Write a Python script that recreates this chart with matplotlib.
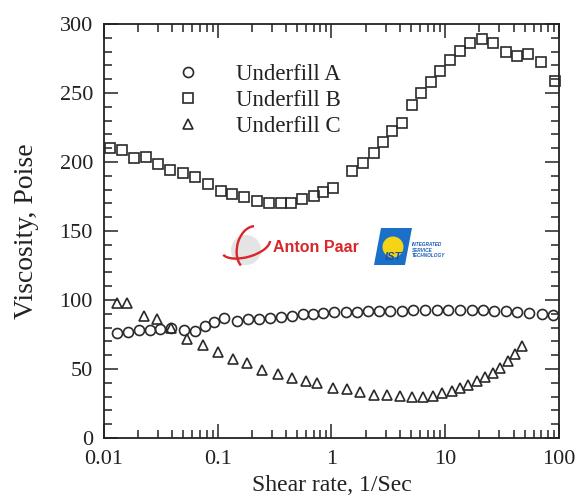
import numpy as np
import matplotlib
matplotlib.use("Agg")
import matplotlib.pyplot as plt
from matplotlib.patches import Polygon, Arc, Ellipse
from matplotlib.ticker import FixedLocator, NullFormatter, MultipleLocator

# ---------------- data ----------------
series_names = ["Underfill A", "Underfill B", "Underfill C"]

a_x = [0.0131, 0.0164, 0.0204, 0.0254, 0.031, 0.0388, 0.0505, 0.063, 0.0773, 0.0927,
       0.1135, 0.1486, 0.186, 0.231, 0.288, 0.36, 0.447, 0.558, 0.692, 0.847,
       1.06, 1.33, 1.67, 2.08, 2.62, 3.27, 4.14, 5.24, 6.64, 8.41,
       10.6, 13.5, 17.1, 21.3, 27, 34, 42.5, 54.8, 70.5, 89.1]
a_y = [76, 77, 78, 78, 79, 80, 78, 77.5, 81, 84,
       87, 85, 86, 86, 87, 88, 88.5, 89.5, 90, 90.5,
       91, 91.5, 91.5, 92, 92, 92, 92.2, 92.5, 92.5, 92.8,
       92.8, 92.8, 92.8, 92.5, 92, 91.8, 91.3, 90.8, 90, 89]

b_x = [0.0113, 0.0143, 0.0184, 0.0233, 0.0297, 0.038, 0.0498, 0.063, 0.0816, 0.106,
       0.133, 0.170, 0.223, 0.284, 0.357, 0.44, 0.553, 0.701, 0.847, 1.04,
       1.51, 1.91, 2.37, 2.85, 3.42, 4.17, 5.07, 6.09, 7.45, 9.0,
       11.0, 13.5, 16.5, 20.9, 26.4, 34.2, 43, 53.7, 69, 92.3]
b_y = [210, 208.5, 203, 203.5, 198.5, 194.5, 192, 189, 184, 179,
       177, 174.5, 171.5, 170, 170.5, 170.5, 173, 175, 178, 181.5,
       193.5, 199, 206.5, 214.5, 222.5, 228, 241, 250, 258, 266,
       274, 280.5, 286, 289, 286, 280, 277, 278, 272.5, 259]

c_x = [0.0129, 0.016, 0.0226, 0.029, 0.0388, 0.0533, 0.0738, 0.100, 0.135, 0.182,
       0.243, 0.336, 0.451, 0.592, 0.74, 1.04, 1.36, 1.78, 2.37, 3.1,
       4.0, 5.13, 6.41, 7.85, 9.3, 11.4, 13.5, 16, 18.9, 22.4,
       26.1, 30.3, 35.8, 41, 47]
c_y = [97.5, 97.5, 88.5, 86, 80, 71.5, 67.5, 62.5, 57, 54,
       49.5, 46.5, 43.5, 41.5, 39.5, 36, 35.3, 33, 31, 31,
       30.5, 29.5, 30, 30.5, 32.5, 34, 36, 38.5, 41, 44,
       47, 51, 55.5, 61, 66.5]

x_ticks = [0.01, 0.1, 1, 10, 100]
x_tick_labels = ["0.01", "0.1", "1", "10", "100"]
y_ticks = [0, 50, 100, 150, 200, 250, 300]

x_label = "Shear rate, 1/Sec"
y_label = "Viscosity, Poise"

# ---------------- figure ----------------
plt.rcParams["font.family"] = ["Liberation Serif", "DejaVu Serif"]
fig = plt.figure(figsize=(5.79, 5.0), dpi=100)
ax = fig.add_axes([0.1796, 0.124, 0.7858, 0.828])

mcol = "#2a2a2a"
common = dict(linestyle="none", markerfacecolor="none", markeredgecolor=mcol,
              markeredgewidth=1.2, clip_on=False, zorder=3)
ax.plot(a_x, a_y, marker="o", markersize=7.2, label=series_names[0], **common)
ax.plot(b_x, b_y, marker="s", markersize=7.0, label=series_names[1], **common)
ax.plot(c_x, c_y, marker="^", markersize=7.0, label=series_names[2], **common)

ax.set_xscale("log")
ax.set_xlim(0.01, 100)
ax.set_ylim(0, 300)
ax.xaxis.set_major_locator(FixedLocator(x_ticks))
ax.set_xticklabels(x_tick_labels)
ax.xaxis.set_minor_locator(FixedLocator(
    [m * 10.0 ** e for e in range(-2, 2) for m in range(2, 10)]))
ax.xaxis.set_minor_formatter(NullFormatter())
ax.set_yticks(y_ticks)
ax.yaxis.set_minor_locator(MultipleLocator(10))

ax.tick_params(which="both", direction="in", top=True, right=True,
               colors="#222222", labelcolor="#222222", width=1.1)
ax.tick_params(which="major", length=10, labelsize=16)
ax.tick_params(which="minor", length=5.5)
ax.tick_params(axis="x", which="major", pad=9)
ax.tick_params(axis="y", which="major", pad=8)
for s in ax.spines.values():
    s.set_linewidth(1.3)
    s.set_color("#222222")

ax.set_xlabel(x_label, fontsize=17, color="#222222", labelpad=4)
ax.set_ylabel(y_label, fontsize=20, color="#222222", labelpad=15)

leg = ax.legend(loc="upper left", bbox_to_anchor=(0.135, 0.93), frameon=False,
                fontsize=16.5, handlelength=1.0, handletextpad=1.6,
                labelspacing=0.2, borderpad=0.0)
for t in leg.get_texts():
    t.set_color("#222222")

# ---------------- logos (approximate) ----------------
def P(px, py):
    return ((px - 104) / 455.0, (438 - py) / 414.0)

def W(wpx):
    return wpx / 455.0

def H(hpx):
    return hpx / 414.0

T = ax.transAxes
red = "#d9262b"
# Anton Paar mark: grey sphere with two red swooshes
ax.add_patch(Ellipse(P(246, 250), W(30), H(30), transform=T, facecolor="#e4e4e4",
                     edgecolor="none", zorder=2))
ax.add_patch(Arc(P(246, 246), W(50), H(22), angle=18, theta1=185, theta2=355,
                 transform=T, color=red, lw=1.7, zorder=2))
ax.add_patch(Arc(P(252, 248), W(30), H(44), angle=-10, theta1=95, theta2=250,
                 transform=T, color=red, lw=1.7, zorder=2))
tx, ty = P(273, 247)
ax.text(tx, ty, "Anton Paar", transform=T, fontsize=11.5, fontweight="bold",
        color=red, family=["Liberation Sans", "DejaVu Sans"],
        ha="left", va="center", zorder=2)

# IST logo
ax.add_patch(Polygon([P(381, 228), P(412, 228), P(405, 265), P(374, 265)],
                     closed=True, transform=T, facecolor="#1a6fc9",
                     edgecolor="none", zorder=2))
ax.add_patch(Ellipse(P(393, 247), W(21), H(21), transform=T,
                     facecolor="#f5d316", edgecolor="none", zorder=2))
ix, iy = P(393, 257)
ax.text(ix, iy, "IST", transform=T, fontsize=8, fontweight="bold", style="italic",
        color="#1a4fa0", family=["Liberation Sans", "DejaVu Sans"],
        ha="center", va="center", zorder=2)
sx, sy = P(412, 250)
ax.text(sx, sy, "INTEGRATED\nSERVICE\nTECHNOLOGY", transform=T, fontsize=3.4,
        fontweight="bold", style="italic", color="#1a5fb5", linespacing=1.1,
        family=["Liberation Sans", "DejaVu Sans"], ha="left", va="center", zorder=2)

fig.savefig("out.png", dpi=100)
